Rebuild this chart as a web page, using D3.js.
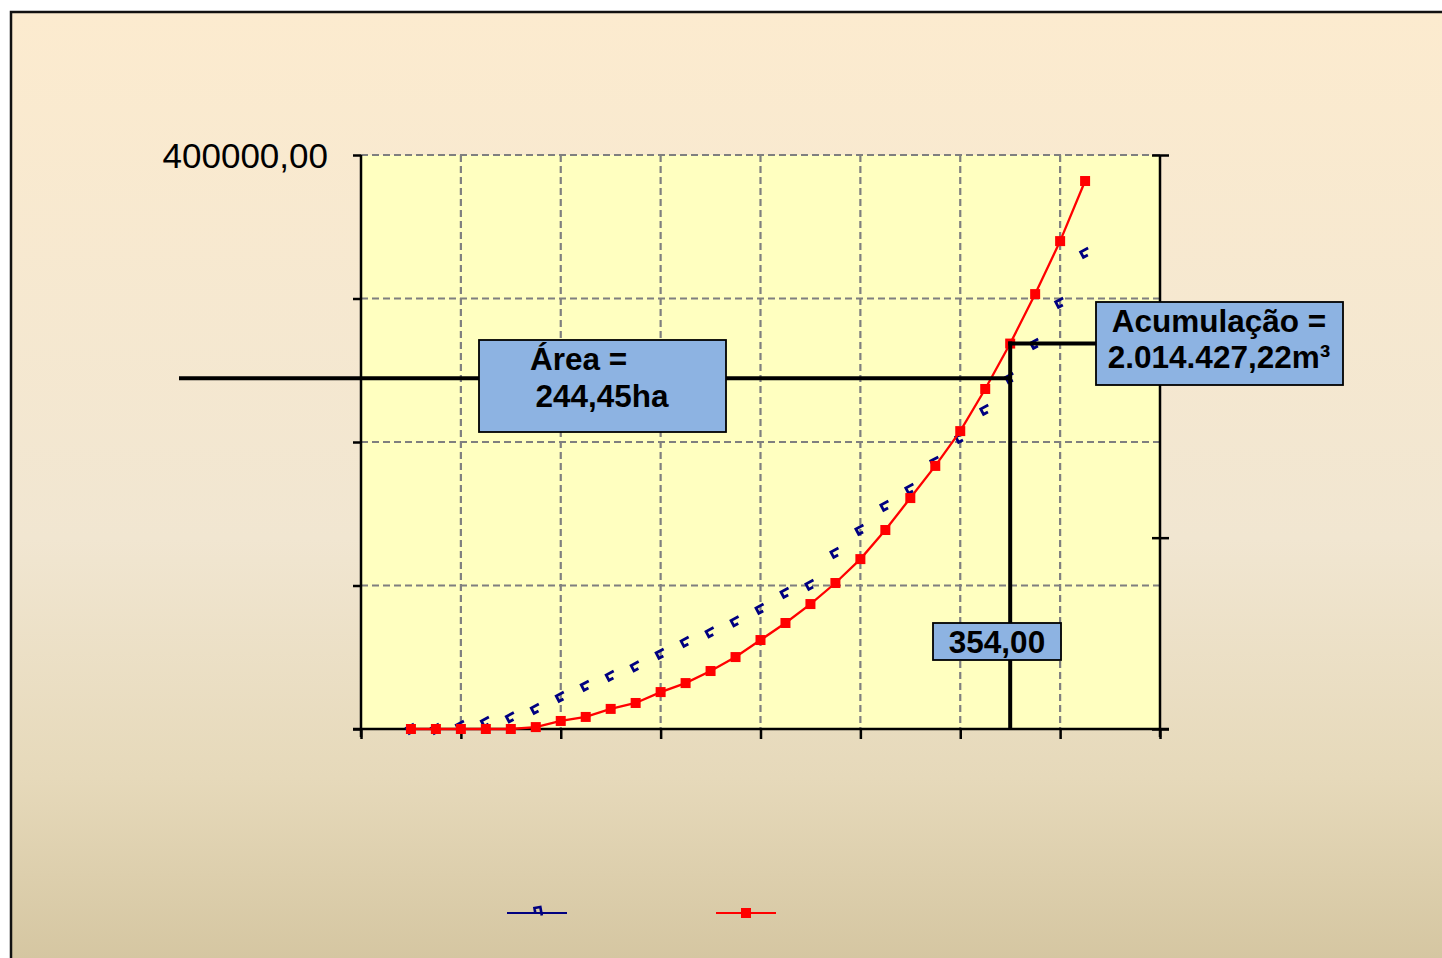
<!DOCTYPE html>
<html>
<head>
<meta charset="utf-8">
<script src="https://cdn.jsdelivr.net/npm/d3@7/dist/d3.min.js"></script>
<style>
  html, body { margin: 0; padding: 0; background: #ffffff; }
  svg { display: block; }
</style>
</head>
<body>
<svg id="chart" width="1442" height="958"></svg>
<script>
// Cotas (m) – eixo horizontal
const cotas = [330, 331, 332, 333, 334, 335, 336, 337, 338, 339, 340, 341, 342, 343,
               344, 345, 346, 347, 348, 349, 350, 351, 352, 353, 354, 355, 356, 357];

// Área inundada (eixo da esquerda)
const areas = [0, 0, 2100, 4900, 8000, 13900, 22300, 30000, 36900, 43500, 52300, 60600,
               67200, 74900, 83600, 94800, 100300, 122600, 138700, 155400, 167200, 186100,
               202800, 222300, 244450, 268300, 296900, 331700];

// Volume acumulado em m³ (eixo da direita)
const volumes = [0, 0, 0, 0, 0, 10000, 42000, 63000, 105000, 136000, 193000, 240000,
                 303000, 376000, 465000, 554000, 653000, 763000, 888000, 1040000, 1207000,
                 1375000, 1557000, 1777000, 2014427.22, 2273000, 2550000, 2864000];

// Marcas dos eixos
const cotaTicks = [328, 332, 336, 340, 344, 348, 352, 356, 360];
const areaTicks = [0, 100000, 200000, 300000, 400000];
const volumeTicks = [0, 1000000, 2000000, 3000000];

// Valores destacados
const cotaDestaque = 354;
const areaDestaque = 244450;
const volumeDestaque = 2014427.22;
const areaTexto = ["Área =", "244,45ha"];
const acumTexto = ["Acumulação =", "2.014.427,22m³"];
const cotaTexto = "354,00";

const ptBR = d3.formatLocale({ decimal: ",", thousands: ".", grouping: [3], currency: ["R$", ""] });
const fmt2 = ptBR.format(".2f");

const svg = d3.select("#chart");

// Fundo do slide com degradê
const defs = svg.append("defs");
const grad = defs.append("linearGradient").attr("id", "fundo")
  .attr("x1", 0).attr("y1", 0).attr("x2", 0).attr("y2", 1);
grad.append("stop").attr("offset", "0%").attr("stop-color", "#fcebcf");
grad.append("stop").attr("offset", "55%").attr("stop-color", "#f1e6d1");
grad.append("stop").attr("offset", "80%").attr("stop-color", "#e6d9ba");
grad.append("stop").attr("offset", "100%").attr("stop-color", "#d4c5a0");

svg.append("rect").attr("x", 11).attr("y", 12).attr("width", 1442).attr("height", 958)
  .attr("fill", "url(#fundo)");
svg.append("path").attr("d", "M11,970 V12 H1450")
  .attr("fill", "none").attr("stroke", "#111").attr("stroke-width", 2.5);

// Área de plotagem
const plot = { left: 361, right: 1160, top: 155, bottom: 729 };

const x = d3.scaleLinear().domain([328, 360]).range([plot.left, plot.right]);
const yL = d3.scaleLinear().domain([0, 400000]).range([plot.bottom, plot.top]);
const yR = d3.scaleLinear().domain([0, 3000000]).range([plot.bottom, plot.top]);

svg.append("rect")
  .attr("x", plot.left).attr("y", plot.top)
  .attr("width", plot.right - plot.left).attr("height", plot.bottom - plot.top)
  .attr("fill", "#ffffc0");

// Grade tracejada
const grid = svg.append("g").attr("stroke", "#7f7f7f").attr("stroke-width", 2.2)
  .attr("stroke-dasharray", "7,4");
grid.selectAll("line.h").data(areaTicks.filter(d => d > 0)).join("line")
  .attr("class", "h")
  .attr("x1", plot.left).attr("x2", plot.right)
  .attr("y1", d => yL(d)).attr("y2", d => yL(d));
grid.selectAll("line.v").data(cotaTicks.slice(1, -1)).join("line")
  .attr("class", "v")
  .attr("x1", d => x(d)).attr("x2", d => x(d))
  .attr("y1", plot.top).attr("y2", plot.bottom);

// Eixos
const axisLeft = svg.append("g").attr("transform", `translate(${plot.left},0)`)
  .call(d3.axisLeft(yL).tickValues(areaTicks).tickSize(8).tickPadding(25)
    .tickFormat(d => d === 400000 ? fmt2(d) : ""));
axisLeft.select(".domain").attr("stroke", "#000").attr("stroke-width", 2.5)
  .attr("d", `M0,${plot.top}V${plot.bottom + 8}`);
axisLeft.selectAll(".tick line").attr("stroke", "#000").attr("stroke-width", 2.5);
axisLeft.selectAll(".tick text")
  .attr("font-family", "Liberation Sans, Arial, sans-serif")
  .attr("font-size", 35).attr("fill", "#000").attr("dy", "0.36em");

const axisBottom = svg.append("g").attr("transform", `translate(0,${plot.bottom})`)
  .call(d3.axisBottom(x).tickValues(cotaTicks).tickSize(10).tickFormat(""));
axisBottom.select(".domain").attr("stroke", "#000").attr("stroke-width", 2.5)
  .attr("d", `M${plot.left - 8},0H${plot.right + 9}`);
axisBottom.selectAll(".tick line").attr("stroke", "#000").attr("stroke-width", 2.5);

const axisRight = svg.append("g").attr("transform", `translate(${plot.right},0)`)
  .call(d3.axisRight(yR).tickValues(volumeTicks).tickSize(9).tickFormat(""));
axisRight.select(".domain").attr("stroke", "#000").attr("stroke-width", 2.5)
  .attr("d", `M0,${plot.top}V${plot.bottom + 8}`);
axisRight.selectAll(".tick line").attr("x1", -8).attr("x2", 9)
  .attr("stroke", "#000").attr("stroke-width", 2.5);

// Marcador da série de área (azul)
const blueMarker = "M5,-3 H-3.5 V3 H1.5";

// Série de área: apenas marcadores
svg.append("g").selectAll("path").data(cotas).join("path")
  .attr("d", blueMarker)
  .attr("transform", (d, i) => `translate(${x(d)},${yL(areas[i])}) rotate(-28)`)
  .attr("fill", "none").attr("stroke", "#000080").attr("stroke-width", 2.8);

// Série de volume (vermelha)
const line = d3.line().x((d, i) => x(cotas[i])).y(d => yR(d));
svg.append("path").datum(volumes).attr("d", line)
  .attr("fill", "none").attr("stroke", "#ff0000").attr("stroke-width", 2.3);
svg.append("g").selectAll("rect").data(volumes).join("rect")
  .attr("x", (d, i) => x(cotas[i]) - 5).attr("y", d => yR(d) - 5)
  .attr("width", 10).attr("height", 10).attr("fill", "#ff0000");

// Linhas de referência
const cx = x(cotaDestaque);
const ya = yL(areaDestaque);
const yv = yR(volumeDestaque);
const ref = svg.append("g").attr("stroke", "#000").attr("stroke-width", 4).attr("fill", "none");
ref.append("line").attr("x1", 179).attr("x2", cx).attr("y1", ya).attr("y2", ya);
ref.append("line").attr("x1", cx).attr("x2", cx).attr("y1", yv - 2).attr("y2", plot.bottom);
ref.append("line").attr("x1", cx - 2).attr("x2", 1096).attr("y1", yv).attr("y2", yv);

// Caixas de texto
const font = "Liberation Sans, Arial, sans-serif";
function caixa(x0, y0, w, h) {
  svg.append("rect").attr("x", x0).attr("y", y0).attr("width", w).attr("height", h)
    .attr("fill", "#8db3e2").attr("stroke", "#000").attr("stroke-width", 1.8);
}
function texto(tx, ty, t, anchor) {
  svg.append("text").attr("x", tx).attr("y", ty).attr("text-anchor", anchor || "middle")
    .attr("font-family", font).attr("font-weight", "bold").attr("font-size", 31.5)
    .attr("fill", "#000").text(t);
}

caixa(479, 340, 247, 92);
texto(530, 370, areaTexto[0], "start");
texto(602, 407, areaTexto[1]);

caixa(1096, 302, 247, 83);
texto(1219, 332, acumTexto[0]);
texto(1219, 368, acumTexto[1]);

caixa(933, 623, 128, 37);
texto(997, 653, cotaTexto);

// Legenda (sem rótulos)
const leg = svg.append("g");
leg.append("line").attr("x1", 507).attr("x2", 567).attr("y1", 913).attr("y2", 913)
  .attr("stroke", "#000080").attr("stroke-width", 2.2);
leg.append("path").attr("d", blueMarker)
  .attr("transform", "translate(538,911) rotate(80)")
  .attr("fill", "none").attr("stroke", "#000080").attr("stroke-width", 2.6);
leg.append("line").attr("x1", 716).attr("x2", 776).attr("y1", 913).attr("y2", 913)
  .attr("stroke", "#ff0000").attr("stroke-width", 2.2);
leg.append("rect").attr("x", 741).attr("y", 908).attr("width", 10).attr("height", 10)
  .attr("fill", "#ff0000");
</script>
</body>
</html>
